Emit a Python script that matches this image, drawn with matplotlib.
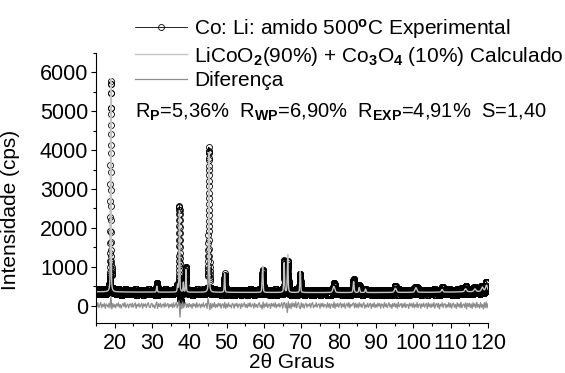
import numpy as np
import matplotlib
matplotlib.use('Agg')
import matplotlib.pyplot as plt
from matplotlib.ticker import MultipleLocator

plt.rcParams['font.family'] = ['Liberation Sans', 'DejaVu Sans']
plt.rcParams['mathtext.fontset'] = 'custom'
plt.rcParams['mathtext.rm'] = 'Liberation Sans'
plt.rcParams['mathtext.it'] = 'Liberation Sans:italic'
plt.rcParams['mathtext.bf'] = 'Liberation Sans:bold'
plt.rcParams['font.size'] = 15.5

# picos refinados: posicao 2theta, altura liquida (cps), largura a meia altura
peak_pos = [18.95, 31.3, 36.85, 37.35, 38.4, 39.1, 45.25, 49.45, 59.5, 59.65,
            65.4, 66.35, 69.7, 78.7, 84.0, 85.5, 87.2, 95.2, 100.7, 107.7,
            114.0, 116.5, 118.5, 119.6]
peak_height = [5500, 150, 180, 2100, 250, 580, 3600, 480, 150, 620,
               760, 980, 540, 160, 280, 130, 90, 110, 120, 70,
               80, 70, 110, 160]
peak_fwhm = [0.18, 0.25, 0.25, 0.2, 0.2, 0.2, 0.2, 0.22, 0.25, 0.22,
             0.25, 0.25, 0.25, 0.6, 0.3, 0.3, 0.3, 0.6, 0.6, 0.5,
             0.6, 0.6, 0.6, 0.6]
eta = 0.4

# coeficientes do fundo (polinomio em t = (2theta - 67.5) / 52.5)
bg_coef = [335, -10, 15, 15, 0, 0, 0, 0, 10]

# varredura: 15 a 120 graus, passo 0.0125
start, step, n_pts = 15.0, 0.0125, 8401

# diferenca (obs - calc) a cada 0.25 graus
diferenca = [
    45, -30, 70, -55, 15, 80, -60, 30, -25, 55, -75, 40, 10, -45, 60, -60, 230, -90, 50, -40,
    25, -60, 45, -15, 70, -45, 30, -70, 15, 55, -30, 75, -55, 5, 40, -60, 25, 45, -40, 60,
    -45, 15, 70, -75, 30, -25, 55, -45, 10, 60, -70, 40, -15, 45, -55, 25, 75, -30, -60, 40,
    55, -40, 15, -70, 30, 90, -75, 45, -25, 60, -55, 15, 40, -45, 70, -30, 10, 55, -60, 30,
    -25, 45, -55, 70, -40, 15, 80, -60, 30, 120, -300, 60, -80, 90, -60, 40, 70, -50, 40, -45,
    60, -30, 25, -70, 55, -15, 40, -55, 75, -40, 15, 45, -60, 30, -25, 70, -45, 10, 55, -75,
    180, 40, -110, 60, -70, 45, -30, 75, -55, 25, -40, 60, -15, 55, -70, 30, 45, -60, 80, -75,
    40, -45, 70, -25, 15, -60, 55, 30, -70, 45, -15, 60, -55, 25, 40, -75, 55, -30, 15, 70,
    -45, 30, -60, 55, -25, 75, -40, 15, 45, -70, 60, -30, 25, -55, 40, 70, -45, 15, -90, 90,
    -60, 45, -30, 70, -55, 25, 40, -75, 60, -15, 45, -40, 75, -60, 30, -25, 55, -45, 15, 70,
    -70, 60, 80, -60, 50, -180, 100, -60, 45, -80, 70, -30, 55, -45, 90, -60, 40, 75, -55, -80,
    70, -40, 45, -70, 25, 60, -45, 30, -15, 55, -60, 40, 75, -55, 15, -30, 70, -45, 25, 45,
    -70, 55, -25, 60, -45, 30, 15, -60, 70, -40, 45, -75, 40, 25, -55, 90, -70, 45, -30, 60,
    -45, 25, 70, -55, 40, -30, 60, -70, 15, 55, -40, 75, -60, 30, -15, 45, 70, -60, 60, -45,
    40, -60, 70, -25, 45, -55, 30, 75, -70, 15, -40, 60, -45, 25, 55, -75, 40, -30, 70, -55,
    30, -45, 60, -15, 55, -70, 40, 25, -60, 75, -30, 45, -55, 15, 70, -40, 30, -75, 55, -25,
    60, -45, 40, -70, 85, -30, 15, 55, -60, 45, -40, 70, -55, 25, 30, -75, 60, -15, 45, -45,
    70, -60, 30, -40, 75, -55, 25, 45, -70, 40, -25, 60, -45, 15, 55, -75, 70, -30, 40, -55,
    45, -30, 75, -70, 25, 55, -45, 60, -85, 30, -15, 70, -55, 40, 45, -60, 25, -40, 75, -45,
    55, -70, 30, 60, -45, 25, -75, 70, -30, 45, -55, 85, -60, 15, 40, -45, 70, -85, 55, -25,
    60, -55, 40, -75, 70, -30, 45, -60, 85, -40, 25, -70, 75, -45, 30, -85, 70, -55, 90, -60,
    45,
]
resid_step = 0.25

# perfil calculado (pseudo-Voigt + fundo)
x = start + step * np.arange(n_pts)
t = (x - 67.5) / 52.5
calc = np.polynomial.polynomial.polyval(t, bg_coef)
for p, h, w in zip(peak_pos, peak_height, peak_fwhm):
    g = np.exp(-4 * np.log(2) * (x - p) ** 2 / w ** 2)
    l = 1 / (1 + 4 * (x - p) ** 2 / w ** 2)
    calc += h * (eta * l + (1 - eta) * g)

# observado = calculado + diferenca
per_bin = int(round(resid_step / step))
obs = calc + np.repeat(diferenca, per_bin)[:n_pts]
x_dif = start + resid_step * np.arange(len(diferenca))

fig = plt.figure(figsize=(5.65, 3.73), dpi=100)
ax = fig.add_axes([96 / 565, 1 - 323 / 373, 392 / 565, 270 / 373])

h1, = ax.plot(x, obs, '-o', color='black', lw=0.6, ms=4.3, mfc='none', mew=0.6)
h2, = ax.plot(x, calc, color='#c4c4c4', lw=1.0)
h3, = ax.plot(x_dif, diferenca, color='#8c8c8c', lw=0.9)

ax.set_xlim(15, 120)
ax.set_ylim(-450, 6500)
ax.xaxis.set_minor_locator(MultipleLocator(5))
ax.yaxis.set_major_locator(MultipleLocator(1000))
ax.yaxis.set_minor_locator(MultipleLocator(500))
ax.set_xticks(range(20, 121, 10))
ax.spines['top'].set_visible(False)
ax.spines['right'].set_visible(False)
ax.tick_params(which='major', direction='out', length=3.5, width=0.8, pad=2)
ax.tick_params(which='minor', direction='out', length=2.2, width=0.8)
ax.tick_params(axis='x', pad=4)

ax.set_xlabel('2θ Graus', fontsize=15, labelpad=-1)
ax.set_ylabel('Intensidade (cps)', fontsize=15)
ax.yaxis.set_label_coords(-0.194, 0.42)

labels = ['Co: Li: amido 500$^{\\mathbf{o}}$C Experimental',
          'LiCoO$_{\\mathbf{2}}$(90%) + Co$_{\\mathbf{3}}$O$_{\\mathbf{4}}$ (10%) Calculado',
          'Diferença']
fig.legend([h1, h2, h3], labels, loc='upper left', bbox_to_anchor=(135 / 565, 1 - 17 / 373),
           frameon=False, borderpad=0, borderaxespad=0, handlelength=2.5,
           handletextpad=0.35, labelspacing=0.17, numpoints=1, fontsize=15)

fig.text(135 / 565, 1 - 118 / 373,
         'R$_{\\mathbf{P}}$=5,36%  R$_{\\mathbf{WP}}$=6,90%  R$_{\\mathbf{EXP}}$=4,91%  S=1,40',
         ha='left', va='baseline', fontsize=14.5)

fig.savefig('out.png', dpi=100)
